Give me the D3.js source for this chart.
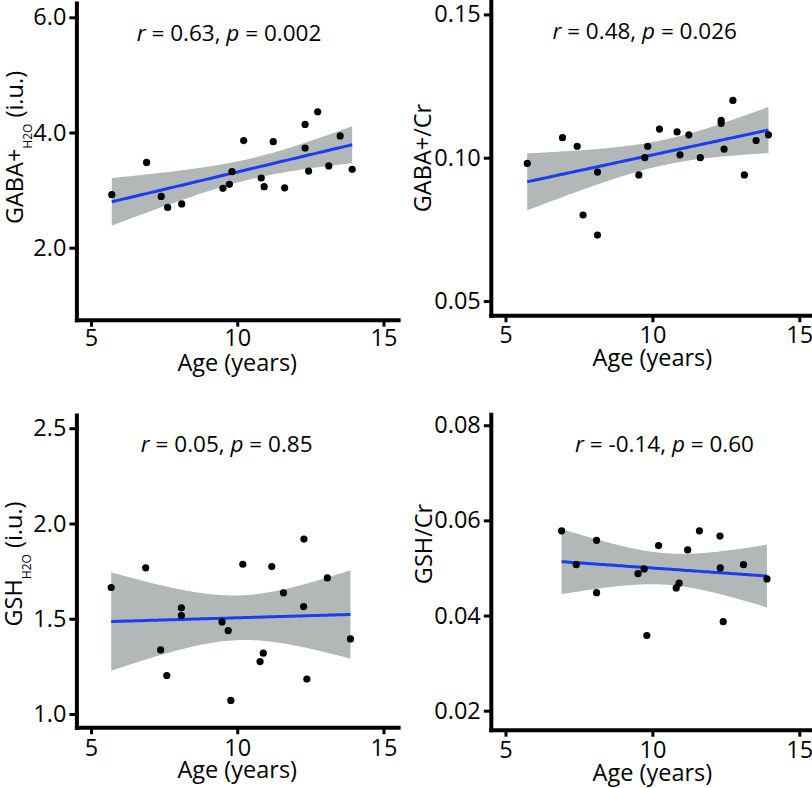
<!DOCTYPE html>
<html><head><meta charset="utf-8">
<script src="https://cdn.jsdelivr.net/npm/d3@7"></script>
<style>html,body{margin:0;padding:0;background:#fff;} svg{display:block;font-family:'Open Sans',sans-serif;}</style>
</head><body><svg id="c" width="812" height="788"></svg>
<script>
// ---- data ----
const ageGabaH2O = [5.71,6.90,7.40,7.62,8.10,9.51,9.73,9.82,10.22,10.82,10.92,11.23,11.62,12.32,12.32,12.44,12.75,13.13,13.52,13.93];
const gabaH2O    = [2.92,3.48,2.89,2.70,2.76,3.03,3.10,3.32,3.86,3.21,3.06,3.84,3.04,4.14,3.73,3.33,4.36,3.42,3.94,3.36];
const ageGabaCr  = [5.74,6.94,7.44,7.64,8.13,8.13,9.54,9.74,9.84,10.24,10.84,10.94,11.24,11.63,12.34,12.34,12.44,12.74,13.13,13.53,13.95];
const gabaCr     = [0.098,0.107,0.104,0.080,0.095,0.073,0.094,0.100,0.104,0.110,0.109,0.101,0.108,0.100,0.113,0.112,0.103,0.120,0.094,0.106,0.108];
const ageGshH2O  = [5.69,6.87,7.38,7.59,8.09,8.09,9.48,9.69,9.78,10.19,10.78,10.89,11.18,11.58,12.27,12.28,12.38,13.08,13.87];
const gshH2O     = [1.664,1.767,1.336,1.202,1.557,1.517,1.483,1.437,1.071,1.786,1.275,1.319,1.774,1.636,1.564,1.918,1.183,1.714,1.394];
const ageGshCr   = [6.91,7.41,8.10,8.10,9.51,9.72,9.81,10.21,10.81,10.91,11.20,11.60,12.30,12.31,12.41,13.10,13.90];
const gshCr      = [0.0578,0.0507,0.0558,0.0448,0.0488,0.0498,0.0358,0.0547,0.0458,0.0468,0.0538,0.0578,0.0567,0.0500,0.0387,0.0507,0.0477];

const xTicks = [5,10,15];
const yTicks1 = [2.0,4.0,6.0];
const yTicks2 = [0.05,0.10,0.15];
const yTicks3 = [1.0,1.5,2.0,2.5];
const yTicks4 = [0.02,0.04,0.06,0.08];

const rText = ["0.63","0.48","0.05","-0.14"];
const pText = ["0.002","0.026","0.85","0.60"];
const xLabel = "Age (years)";

// ---- layout ----
const panels = [
  {x:ageGabaH2O, y:gabaH2O, yt:yTicks1, fmt:".1f", xr:[76.4,398.1], yr:[319.7,2.9], yd:[0.75,6.25], xpad:3,
   ann:[229,40.5], title:{main:"GABA+", sub:"H2O", rest:" (i.u.)", x:23, y:147.5}},
  {x:ageGabaCr, y:gabaCr, yt:yTicks2, fmt:".2f", xr:[490.8,814], yr:[315.3,0.1], yd:[0.045,0.155], xpad:4,
   ann:[644.7,38.5], title:{main:"GABA+/Cr", x:431, y:158}},
  {x:ageGshH2O, y:gshH2O, yt:yTicks3, fmt:".1f", xr:[76.4,398.1], yr:[727.3,414.9], yd:[0.93,2.57], xpad:5,
   ann:[226.7,451.7], title:{main:"GSH", sub:"H2O", rest:" (i.u.)", x:22, y:564}},
  {x:ageGshCr, y:gshCr, yt:yTicks4, fmt:".2f", xr:[490.8,814], yr:[729.7,414.3], yd:[0.016,0.0823], xpad:5,
   ann:[664.5,451.7], title:{main:"GSH/Cr", x:432, y:544}}
];

const tq = {15:2.131,16:2.120,17:2.110,18:2.101,19:2.093,20:2.086};

const svg = d3.select("#c");

panels.forEach((P,i)=>{
  const xs = d3.scaleLinear().domain([4.5,15.5]).range(P.xr);
  const ys = d3.scaleLinear().domain(P.yd).range(P.yr);
  const g = svg.append("g");

  // regression (OLS with 95% confidence band)
  const n = P.x.length;
  const mx = d3.mean(P.x), my = d3.mean(P.y);
  let sxx=0, sxy=0;
  for(let k=0;k<n;k++){ sxx += (P.x[k]-mx)**2; sxy += (P.x[k]-mx)*(P.y[k]-my); }
  const b = sxy/sxx, a = my - b*mx;
  let sse=0; for(let k=0;k<n;k++){ sse += (P.y[k]-(a+b*P.x[k]))**2; }
  const s = Math.sqrt(sse/(n-2));
  const t = tq[n-2];
  const [lo,hi] = d3.extent(P.x);
  const grid = d3.range(80).map(k=> lo + (hi-lo)*k/79);
  const band = grid.map(xv=>{
    const fit = a + b*xv;
    const se = s*Math.sqrt(1/n + (xv-mx)**2/sxx);
    return {x:xv, f:fit, l:fit - t*se, u:fit + t*se};
  });
  g.append("path").datum(band)
    .attr("d", d3.area().x(d=>xs(d.x)).y0(d=>ys(d.l)).y1(d=>ys(d.u)))
    .attr("fill","#b1b8b7");
  g.append("path").datum(band)
    .attr("d", d3.line().x(d=>xs(d.x)).y(d=>ys(d.f)))
    .attr("fill","none").attr("stroke","#1a3cf2").attr("stroke-width",3);

  // points
  g.selectAll("circle.pt").data(P.x.map((xv,k)=>[xv,P.y[k]])).join("circle")
    .attr("cx",d=>xs(d[0])).attr("cy",d=>ys(d[1])).attr("r",3.6).attr("fill","#000");

  // axes
  const yAx = g.append("g").attr("transform",`translate(${P.xr[0]},0)`)
    .call(d3.axisLeft(ys).tickValues(P.yt).tickFormat(d3.format(P.fmt)).tickSize(7).tickSizeOuter(0).tickPadding(3));
  const xAx = g.append("g").attr("transform",`translate(0,${P.yr[0]})`)
    .call(d3.axisBottom(xs).tickValues(xTicks).tickFormat(d3.format("d")).tickSize(7).tickSizeOuter(0).tickPadding(P.xpad));
  [yAx,xAx].forEach(ax=>{
    ax.select(".domain").attr("stroke","#000").attr("stroke-width",4).attr("stroke-linecap","square");
    ax.selectAll(".tick line").attr("stroke","#000").attr("stroke-width",3);
    ax.selectAll(".tick text").attr("fill","#000").style("font-size","23.5px").style("font-family","'Open Sans',sans-serif");
  });

  // x title
  g.append("text").attr("x",(P.xr[0]+P.xr[1])/2).attr("y",P.yr[0]+51)
    .attr("text-anchor","middle").style("font-size","23.5px").text(xLabel);

  // y title
  const T = P.title;
  const tt = g.append("text").attr("transform",`translate(${T.x},${T.y}) rotate(-90)`)
    .attr("text-anchor","middle").style("font-size","23.5px");
  tt.append("tspan").text(T.main);
  if(T.sub){
    tt.append("tspan").attr("dy",9).style("font-size","12px").text(T.sub);
    tt.append("tspan").attr("dy",-9).text(T.rest);
  }

  // annotation
  const an = g.append("text").attr("x",P.ann[0]).attr("y",P.ann[1])
    .attr("text-anchor","middle").style("font-size","22.5px");
  an.append("tspan").style("font-style","italic").text("r");
  an.append("tspan").text(" = " + rText[i] + ", ");
  an.append("tspan").style("font-style","italic").text("p");
  an.append("tspan").text(" = " + pText[i]);
});
</script></body></html>
